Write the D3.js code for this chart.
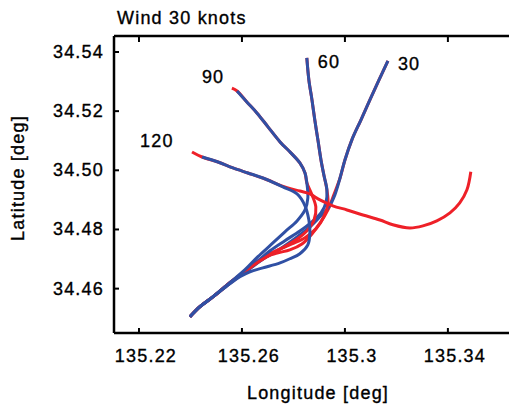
<!DOCTYPE html>
<html>
<head>
<meta charset="utf-8">
<script src="https://cdn.jsdelivr.net/npm/d3@7"></script>
<style>
  body { margin: 0; background: #fff; }
  text { font-family: "Liberation Sans", Arial, sans-serif; fill: #000; stroke: #000; stroke-width: 0.35px; }
</style>
</head>
<body>
<div id="chart"></div>
<script>
// wind angle of each run
const runs = ['30', '60', '90', '120']

// blue: model A, [lon, lat]
const blue30 = [[135.3167,34.5370],[135.3132,34.5305],[135.3097,34.5238],[135.3062,34.5170],[135.3027,34.5103],[135.3000,34.5035],[135.2981,34.4974],[135.2961,34.4917],[135.2938,34.4876],[135.2903,34.4843],[135.2864,34.4809],[135.2814,34.4775],[135.2759,34.4741],[135.2689,34.4704],[135.2619,34.4660],[135.2553,34.4620],[135.2487,34.4572],[135.2437,34.4539],[135.2398,34.4505]]
const blue60 = [[135.2852,34.5380],[135.2860,34.5305],[135.2872,34.5238],[135.2883,34.5170],[135.2895,34.5103],[135.2907,34.5035],[135.2918,34.4985],[135.2930,34.4934],[135.2926,34.4890],[135.2907,34.4856],[135.2872,34.4826],[135.2825,34.4795],[135.2767,34.4762],[135.2709,34.4728],[135.2658,34.4691],[135.2604,34.4653],[135.2546,34.4613],[135.2487,34.4572],[135.2437,34.4539],[135.2398,34.4505]]
const blue90 = [[135.2581,34.5268],[135.2619,34.5231],[135.2658,34.5194],[135.2701,34.5147],[135.2748,34.5096],[135.2790,34.5059],[135.2825,34.5025],[135.2845,34.4991],[135.2852,34.4958],[135.2856,34.4907],[135.2845,34.4866],[135.2814,34.4829],[135.2767,34.4792],[135.2716,34.4751],[135.2662,34.4708],[135.2612,34.4664],[135.2553,34.4620],[135.2487,34.4572],[135.2437,34.4539],[135.2398,34.4505]]
const blue120 = [[135.2445,34.5045],[135.2507,34.5028],[135.2565,34.5008],[135.2623,34.4991],[135.2681,34.4974],[135.2759,34.4944],[135.2814,34.4920],[135.2845,34.4880],[135.2860,34.4832],[135.2864,34.4789],[135.2856,34.4748],[135.2825,34.4718],[135.2786,34.4701],[135.2748,34.4687],[135.2681,34.4670],[135.2631,34.4657],[135.2592,34.4640],[135.2553,34.4616],[135.2487,34.4572],[135.2437,34.4539],[135.2398,34.4505]]

// red: model B
const red30 = [[135.3167,34.5370],[135.3132,34.5305],[135.3097,34.5238],[135.3062,34.5170],[135.3027,34.5103],[135.3000,34.5035],[135.2981,34.4974],[135.2957,34.4917],[135.2934,34.4866],[135.2907,34.4826],[135.2872,34.4785],[135.2833,34.4751],[135.2786,34.4731],[135.2740,34.4721],[135.2697,34.4708],[135.2658,34.4687],[135.2604,34.4653],[135.2553,34.4620],[135.2487,34.4572],[135.2437,34.4539],[135.2398,34.4505]]
const red60 = [[135.2852,34.5380],[135.2860,34.5305],[135.2872,34.5238],[135.2883,34.5170],[135.2895,34.5103],[135.2907,34.5035],[135.2918,34.4985],[135.2930,34.4934],[135.2934,34.4887],[135.2918,34.4843],[135.2887,34.4802],[135.2845,34.4772],[135.2794,34.4751],[135.2740,34.4731],[135.2685,34.4708],[135.2639,34.4677],[135.2592,34.4643],[135.2546,34.4613],[135.2487,34.4572],[135.2437,34.4539],[135.2398,34.4505]]
const red90 = [[135.2561,34.5278],[135.2581,34.5268],[135.2619,34.5231],[135.2658,34.5194],[135.2701,34.5147],[135.2748,34.5096],[135.2790,34.5059],[135.2825,34.5025],[135.2845,34.4991],[135.2852,34.4958],[135.2872,34.4917],[135.2887,34.4876],[135.2880,34.4832],[135.2852,34.4795],[135.2810,34.4765],[135.2759,34.4738],[135.2709,34.4714],[135.2658,34.4687],[135.2604,34.4653],[135.2553,34.4620],[135.2487,34.4572],[135.2437,34.4539],[135.2398,34.4505]]
const red120 = [[135.2406,34.5062],[135.2445,34.5045],[135.2507,34.5028],[135.2565,34.5008],[135.2623,34.4991],[135.2681,34.4974],[135.2775,34.4941],[135.2825,34.4930],[135.2864,34.4920],[135.2903,34.4900],[135.2953,34.4880],[135.3008,34.4866],[135.3070,34.4849],[135.3136,34.4832],[135.3186,34.4816],[135.3252,34.4805],[135.3303,34.4812],[135.3357,34.4829],[135.3408,34.4856],[135.3446,34.4890],[135.3474,34.4934],[135.3489,34.4995]]

const xTicks = [135.22, 135.26, 135.3, 135.34]
const xTickLabels = ['135.22', '135.26', '135.3', '135.34']
const yTicks = [34.54, 34.52, 34.50, 34.48, 34.46]
const yTickLabels = ['34.54', '34.52', '34.50', '34.48', '34.46']

const w = 509, h = 407
const margin = {top: 36, right: -3, bottom: 74, left: 114}
const width = w - margin.left - margin.right
const height = h - margin.top - margin.bottom

const x = d3.scaleLinear()
  .domain([135.2103, 135.3649])
  .range([0, width])

const y = d3.scaleLinear()
  .domain([34.4450, 34.5454])
  .range([height, 0])

const svg = d3.select('#chart').append('svg')
  .attr('width', w)
  .attr('height', h)

const chart = svg.append('g')
  .attr('transform', 'translate(' + margin.left + ',' + margin.top + ')')

const line = d3.line()
  .x(d => x(d[0]))
  .y(d => y(d[1]))
  .curve(d3.curveCatmullRom)

const pairs = [
  [red30, blue30], [red60, blue60], [red90, blue90], [red120, blue120]
]
const colors = ['#ee2028', '#3050a4']

const layers = chart.append('g').attr('class', 'layers')
pairs.forEach(p => {
  p.forEach((d, i) => {
    layers.append('path')
      .datum(d)
      .attr('d', line)
      .attr('fill', 'none')
      .attr('stroke', colors[i])
      .attr('stroke-width', 3)
      .attr('stroke-linejoin', 'round')
  })
})

// run labels placed next to the start of each red track
const labelOffset = [[10, 9], [11, 10], [-30, -5], [-52, -5]]
chart.append('g').selectAll('text')
  .data(runs)
  .enter()
  .append('text')
  .attr('x', (d, i) => x(pairs[i][0][0][0]) + labelOffset[i][0])
  .attr('y', (d, i) => y(pairs[i][0][0][1]) + labelOffset[i][1])
  .style('font-size', '18px')
  .style('letter-spacing', '1.2px')
  .text(d => d)

// frame and ticks
chart.append('line').attr('x1', 0).attr('x2', width).attr('y1', 0).attr('y2', 0)
  .attr('stroke', '#000').attr('stroke-width', 2.5)
chart.append('line').attr('x1', 0).attr('x2', width).attr('y1', height).attr('y2', height)
  .attr('stroke', '#000').attr('stroke-width', 2.5)
chart.append('line').attr('x1', 0).attr('x2', 0).attr('y1', 0).attr('y2', height)
  .attr('stroke', '#000').attr('stroke-width', 2.5)

const tickG = chart.append('g')
xTicks.forEach(t => {
  tickG.append('line').attr('x1', x(t)).attr('x2', x(t)).attr('y1', height).attr('y2', height - 5)
    .attr('stroke', '#000').attr('stroke-width', 2)
  tickG.append('line').attr('x1', x(t)).attr('x2', x(t)).attr('y1', 0).attr('y2', 6)
    .attr('stroke', '#000').attr('stroke-width', 2)
})
yTicks.forEach(t => {
  tickG.append('line').attr('x1', 0).attr('x2', 5).attr('y1', y(t)).attr('y2', y(t))
    .attr('stroke', '#000').attr('stroke-width', 2)
})

chart.append('g').selectAll('text')
  .data(xTicks)
  .enter()
  .append('text')
  .attr('x', d => x(d) + 7)
  .attr('y', height + 29)
  .attr('text-anchor', 'middle')
  .style('font-size', '18px')
  .style('letter-spacing', '1.2px')
  .text((d, i) => xTickLabels[i])

chart.append('g').selectAll('text')
  .data(yTicks)
  .enter()
  .append('text')
  .attr('x', -10)
  .attr('y', d => y(d) + 6)
  .attr('text-anchor', 'end')
  .style('font-size', '18px')
  .style('letter-spacing', '1.2px')
  .text((d, i) => yTickLabels[i])

svg.append('text')
  .attr('x', 117)
  .attr('y', 24)
  .style('font-size', '18px')
  .style('letter-spacing', '1.2px')
  .text('Wind 30 knots')

svg.append('text')
  .attr('x', 318)
  .attr('y', 399)
  .attr('text-anchor', 'middle')
  .style('font-size', '18px')
  .style('letter-spacing', '1.2px')
  .text('Longitude [deg]')

svg.append('text')
  .attr('transform', 'translate(24,178) rotate(-90)')
  .attr('text-anchor', 'middle')
  .style('font-size', '18px')
  .style('letter-spacing', '1.2px')
  .text('Latitude [deg]')
</script>
</body>
</html>
